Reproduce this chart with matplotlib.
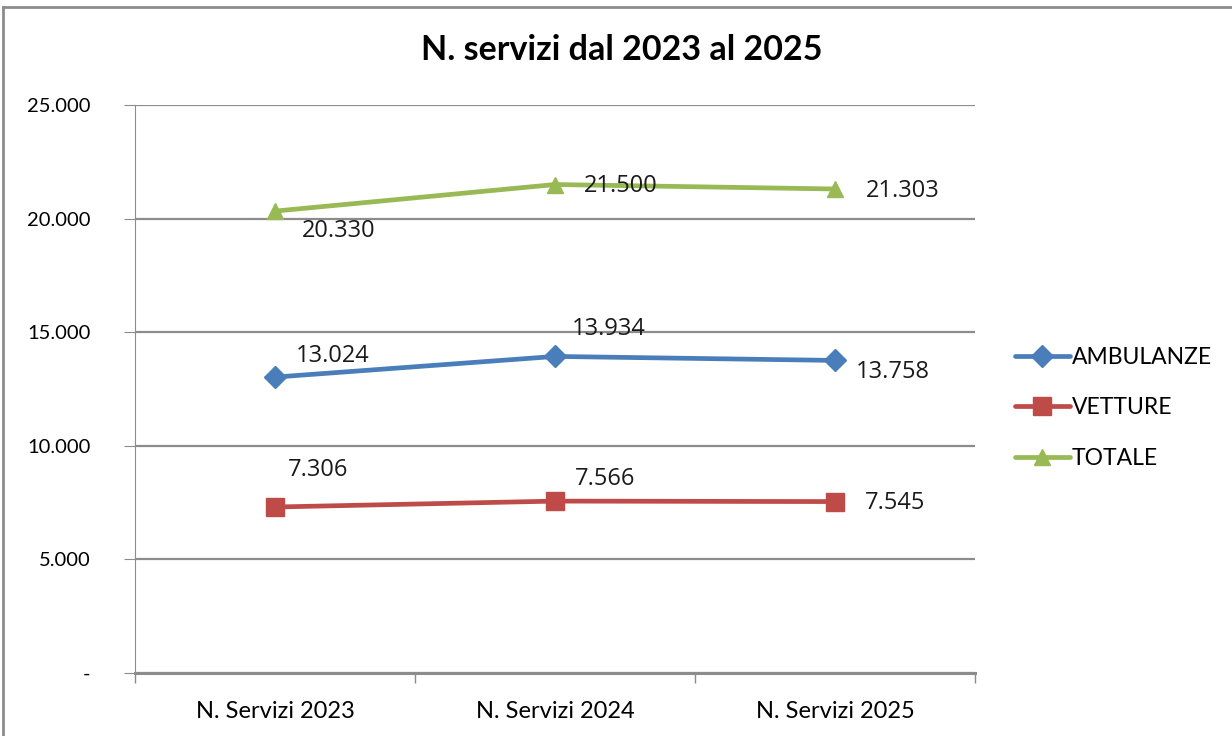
import matplotlib
matplotlib.use('Agg')
import matplotlib.pyplot as plt
from matplotlib.lines import Line2D
from matplotlib.ticker import FuncFormatter

plt.rcParams['font.family'] = ['Lato', 'DejaVu Sans']

# --- data ---------------------------------------------------------------
categories = ['N. Servizi 2023', 'N. Servizi 2024', 'N. Servizi 2025']
ambulanze = [13024, 13934, 13758]
vetture = [7306, 7566, 7545]
totale = [20330, 21500, 21303]
y_ticks = [0, 5000, 10000, 15000, 20000, 25000]

# label offsets in pixels (dx, dy) for each point, per series
off_amb = [(58, 21), (54, 27), (58, -12)]
off_vet = [(43, 37), (50, 22), (60, -1)]
off_tot = [(64, -20), (66, -1), (68, -2)]

series = [
    ('AMBULANZE', ambulanze, '#4A7EBB', 'D', 11, off_amb),
    ('VETTURE', vetture, '#BE4B48', 's', 13, off_vet),
    ('TOTALE', totale, '#98B954', '^', 12, off_tot),
]


def it_fmt(v, pos=None):
    if v == 0:
        return '-'
    return f'{v:,.0f}'.replace(',', '.')


fig = plt.figure(figsize=(12.32, 7.36), dpi=100, facecolor='white')
ax = fig.add_axes([135 / 1232, 1 - 673 / 736, 840 / 1232, 568 / 736])

x = list(range(len(categories)))
for name, vals, col, mk, ms, offs in series:
    ax.plot(x, vals, color=col, lw=3.4, marker=mk, ms=ms, label=name,
            solid_capstyle='round', zorder=3)
    for xi, v, (dx, dy) in zip(x, vals, offs):
        ax.annotate(it_fmt(v), (xi, v), xytext=(dx, dy), textcoords='offset pixels',
                    ha='center', va='center', fontsize=17, color='#1a1a1a',
                    family=['Open Sans', 'DejaVu Sans'], zorder=4)

ax.set_xlim(-0.5, 2.5)
ax.set_ylim(0, 25000)
ax.set_yticks(y_ticks)
ax.yaxis.set_major_formatter(FuncFormatter(it_fmt))
ax.grid(axis='y', color='#8c8c8c', lw=1.6)
ax.set_axisbelow(True)

# category axis: labels in the middle, ticks at the boundaries
ax.set_xticks(x)
ax.set_xticklabels(categories, fontsize=17)
ax.set_xticks([-0.5, 0.5, 1.5, 2.5], minor=True)
ax.tick_params(axis='x', which='major', length=0, pad=20)
ax.tick_params(axis='x', which='minor', length=7, color='#8c8c8c', width=1)
ax.tick_params(axis='y', length=8, color='#8c8c8c', labelsize=14.5, pad=24)

for s in ['top', 'right']:
    ax.spines[s].set_visible(False)
ax.spines['left'].set_color('#8c8c8c')
ax.spines['bottom'].set_color('#8c8c8c')
ax.spines['bottom'].set_linewidth(2.2)

fig.text(622 / 1232, 1 - 50 / 736, 'N. servizi dal 2023 al 2025', ha='center',
         va='center', fontsize=24.5, fontweight='bold')

handles, labels = ax.get_legend_handles_labels()
fig.legend(handles, labels, loc='center left', bbox_to_anchor=(994 / 1232, 1 - 408 / 736),
           frameon=False, fontsize=16.5, handlelength=2.4, handletextpad=0.1,
           labelspacing=1.3)

# outer chart border (left and top edges visible)
fig.add_artist(Line2D([3 / 1232, 3 / 1232], [0, 1 - 7 / 736], color='#8c8c8c', lw=2,
                      transform=fig.transFigure))
fig.add_artist(Line2D([3 / 1232, 1], [1 - 7 / 736, 1 - 7 / 736], color='#8c8c8c', lw=2,
                      transform=fig.transFigure))

fig.savefig('out.png', dpi=100, facecolor='white')
